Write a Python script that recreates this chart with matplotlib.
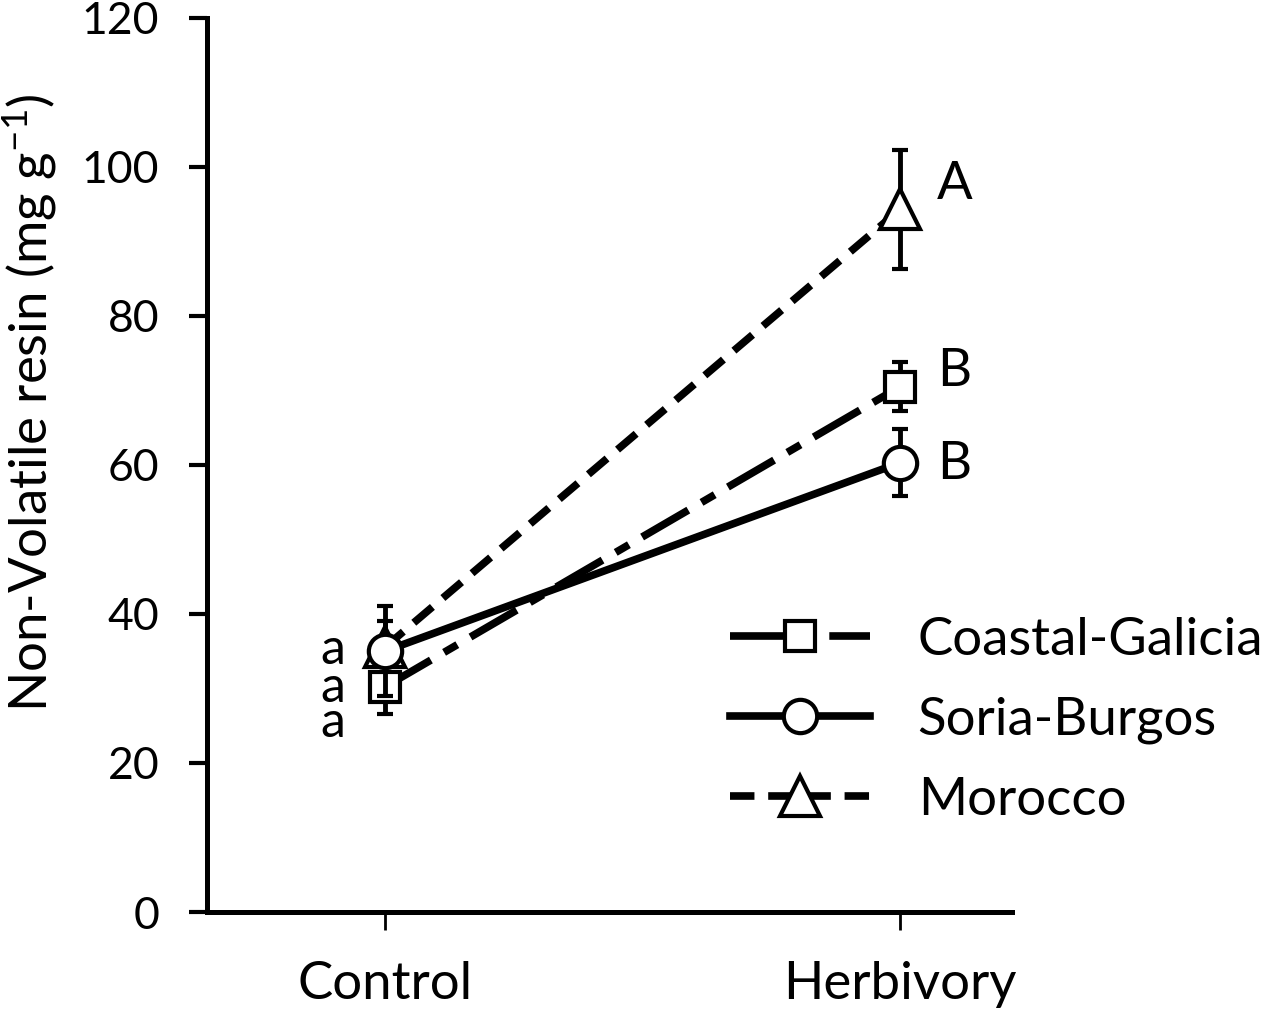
import matplotlib
matplotlib.use('Agg')
import matplotlib.pyplot as plt
from matplotlib.lines import Line2D

plt.rcParams['font.family'] = ['Lato', 'DejaVu Sans']
plt.rcParams['mathtext.default'] = 'regular'

treatments = ['Control', 'Herbivory']
populations = ['Coastal-Galicia', 'Soria-Burgos', 'Morocco']

galicia_mean = [30.2, 70.5]
galicia_err = [3.6, 3.3]
soria_mean = [35.0, 60.3]
soria_err = [6.0, 4.5]
morocco_mean = [35.5, 94.3]
morocco_err = [3.5, 8.0]

control_letters = ['a', 'a', 'a']
control_letter_y = [35.2, 30.1, 25.4]
herbivory_letters = ['A', 'B', 'B']
herbivory_letter_y = [97.6, 72.5, 60.0]

fig = plt.figure(figsize=(12.67, 10.22), dpi=100)
ax = fig.add_axes([0.163, 0.1076, 0.636, 0.875])

x = [0, 1]
lw = 5.5
dashdot = (0, (7, 2, 2, 2))
dashed = (0, (3.2, 1.8))
common = dict(color='black', lw=lw, markerfacecolor='white', markeredgecolor='black',
              markeredgewidth=3, ecolor='black', elinewidth=3.5, capsize=6, capthick=3.5)

ax.errorbar(x, morocco_mean, yerr=morocco_err, marker='^', markersize=29,
            linestyle=dashed, zorder=2, **common)
ax.errorbar(x, galicia_mean, yerr=galicia_err, marker='s', markersize=22,
            linestyle=dashdot, zorder=3, **common)
ax.errorbar(x, soria_mean, yerr=soria_err, marker='o', markersize=24,
            linestyle='-', zorder=4, **common)

# significance letters
for letter, ly in zip(control_letters, control_letter_y):
    ax.text(-0.101, ly, letter, fontsize=36, ha='center', va='center')
for letter, ly in zip(herbivory_letters, herbivory_letter_y):
    ax.text(1.105, ly, letter, fontsize=38, ha='center', va='center')

ax.set_xlim(-0.3456, 1.2175)
ax.set_ylim(0, 120)
ax.set_xticks(x)
ax.set_xticklabels(treatments, fontsize=38)
ax.set_yticks(range(0, 121, 20))
ax.tick_params(axis='y', labelsize=32, length=13, width=3, direction='out', pad=21)
ax.tick_params(axis='x', length=13, width=2, direction='out', pad=22)

for side in ['top', 'right']:
    ax.spines[side].set_visible(False)
for side in ['left', 'bottom']:
    ax.spines[side].set_linewidth(3.6)

ax.set_ylabel('Non-Volatile resin (mg g$^{-1}$)', fontsize=38)
ax.yaxis.set_label_coords(-0.183, 0.57)

handles = [
    Line2D([], [], color='black', lw=lw, linestyle=dashdot, marker='s',
           markersize=22, markerfacecolor='white', markeredgewidth=3),
    Line2D([], [], color='black', lw=lw, linestyle='-', marker='o',
           markersize=24, markerfacecolor='white', markeredgewidth=3),
    Line2D([], [], color='black', lw=lw, linestyle=dashed, marker='^',
           markersize=29, markerfacecolor='white', markeredgewidth=3),
]
ax.legend(handles, populations, loc='upper left', bbox_to_anchor=(0.65, 0.33),
          frameon=False, fontsize=38, handlelength=2.65, handletextpad=0.9,
          labelspacing=0.62, borderpad=0, borderaxespad=0)

fig.savefig('out.png', dpi=100)
